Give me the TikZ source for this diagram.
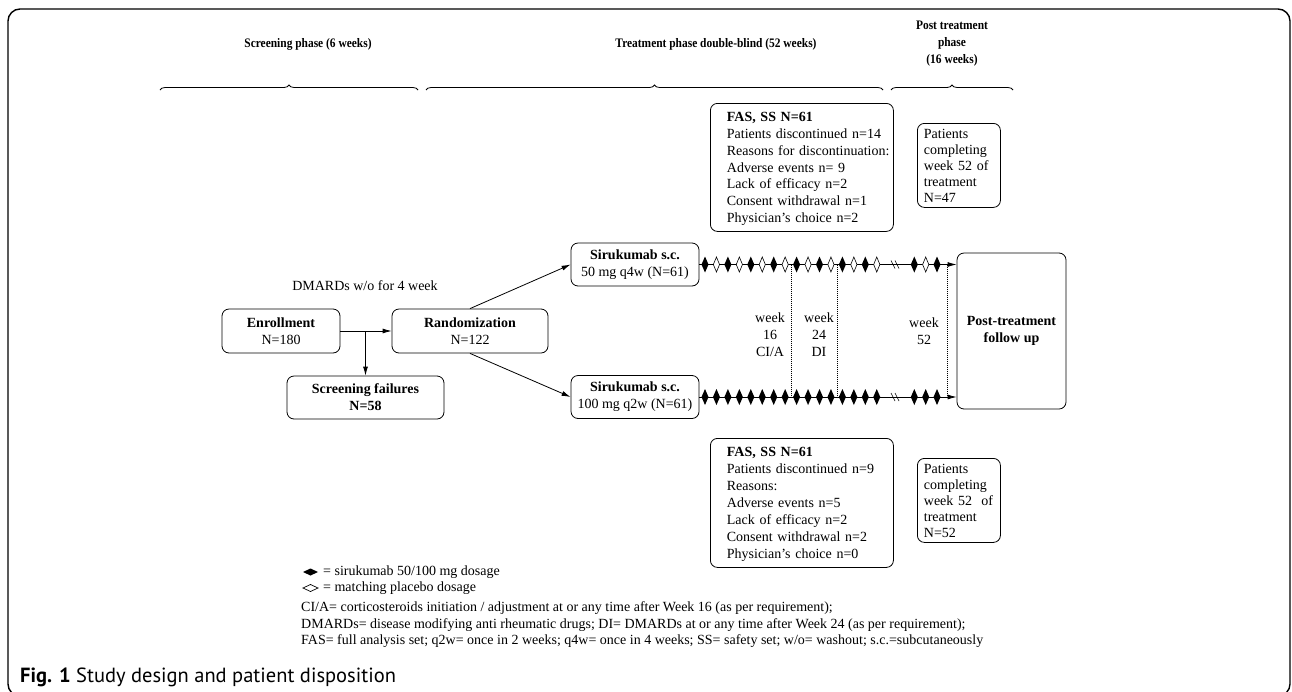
\documentclass[tikz,border=0pt]{standalone}
\usepackage{fontspec}
\setmainfont{Liberation Serif}
\newfontfamily\capfont{PT Sans}
\newfontfamily\headfont[FakeStretch=0.88]{Liberation Serif}
\usetikzlibrary{arrows.meta,decorations.pathreplacing}
\newcommand\fdia[2]{\fill ({#1},{#2-8}) -- ++(3.5,8) -- ++(-3.5,8) -- ++(-3.5,-8) -- cycle;}
\newcommand\odia[2]{\filldraw[fill=white,line width=0.6pt] ({#1},{#2-7.5}) -- ++(3.1,7.5) -- ++(-3.1,7.5) -- ++(-3.1,-7.5) -- cycle;}
\tikzset{
  box/.style={draw, line width=0.8pt, rounded corners=7pt, align=center, inner sep=2pt, font=\fontsize{14}{16.9}\selectfont},
  lbox/.style={draw, line width=0.8pt, rounded corners=7pt, align=left, anchor=north west, inner sep=0pt, font=\fontsize{14}{16.9}\selectfont},
  txt/.style={align=center, inner sep=0pt, font=\fontsize{14}{16.9}\selectfont},
  head/.style={align=center, inner sep=0pt, font=\headfont\fontsize{13}{17}\selectfont\bfseries},
  foot/.style={anchor=west, inner sep=0pt, font=\fontsize{14}{16}\selectfont},
  arr/.style={line width=0.8pt, -{Latex[length=9pt,width=5pt]}},
  brc/.style={line width=0.8pt, decorate, decoration={brace, amplitude=5pt}},
  dotl/.style={line width=0.6pt, dash pattern=on 1pt off 1pt}
}
\begin{document}
\begin{tikzpicture}[x=1pt,y=-1pt]
\useasboundingbox (0,0) rectangle (1292,691);
\begin{scope}
\clip (0,0) rectangle (1292,691);
\draw[line width=1.4pt, rounded corners=12pt] (8,9) rectangle (1290,696);
\end{scope}

% headings
\node[head] (h1) at (308,44) {Screening phase (6 weeks)};
\node[head] (h2) at (716,44) {Treatment phase double-blind (52 weeks)};
\node[head] (h3) at (952,44) {Post treatment\\phase\\(16 weeks)};
\draw[brc] (160,90) -- (418,90);
\draw[brc] (426,90) -- (883,90);
\draw[brc] (891,90) -- (1013,90);

% left flow
\node[box, minimum width=118pt, minimum height=44pt] (enr) at (281,331) {\textbf{Enrollment}\\N=180};
\node[box, minimum width=156pt, minimum height=44pt] (rand) at (470,331) {\textbf{Randomization}\\N=122};
\node[box, minimum width=157pt, minimum height=43pt, font=\fontsize{14}{16.9}\selectfont\bfseries] (fail) at (365.5,397.5) {Screening failures\\N=58};
\node[txt] (dm) at (365,286) {DMARDs w/o for 4 week};
\draw[arr] (enr.east) -- (rand.west);
\draw[arr] (enr.east -| fail.north) -- (fail.north);

\node[box, minimum width=128pt, minimum height=43pt] (top) at (635,264.5) {\textbf{Sirukumab s.c.}\\50 mg q4w (N=61)};
\node[box, minimum width=128pt, minimum height=43pt] (bot) at (635,397) {\textbf{Sirukumab s.c.}\\100 mg q2w (N=61)};
\draw[arr] (rand.north) -- (top.west);
\draw[arr] (rand.south) -- (bot.west);

\node[box, minimum width=109pt, minimum height=156pt, font=\fontsize{14}{16.9}\selectfont\bfseries] (post) at (1011.5,331) {Post-treatment\\follow up};

% timelines
\draw[arr] (top.east) -- (post.west |- top.east);
\draw[arr] (bot.east) -- (post.west |- bot.east);
\coordinate (d16) at (791,264.5);
\coordinate (d24) at (837,264.5);
\coordinate (d52) at (947,264.5);
\draw[dotl] (d16) -- (d16 |- bot.east);
\draw[dotl] (d24) -- (d24 |- bot.east);
\draw[dotl] (d52) -- (d52 |- bot.east);
\foreach \i in {0,2,...,14} {\fdia{705+11.45*\i}{264.5}}
\foreach \i in {1,3,...,15} {\odia{705+11.45*\i}{264.5}}
\fdia{914.3}{264.5}\odia{925.7}{264.5}\fdia{937}{264.5}
\foreach \i in {0,...,15} {\fdia{705+11.45*\i}{397}}
\fdia{914.3}{397}\fdia{925.7}{397}\fdia{937}{397}
\foreach \yy in {264.5,397} {
  \draw[line width=0.6pt] (891,\yy-4) -- (895,\yy+4);
  \draw[line width=0.6pt] (895,\yy-4) -- (899,\yy+4);
}
\node[txt] (w16) at (770,335) {week\\16\\CI/A};
\node[txt] (w24) at (819,335) {week\\24\\DI};
\node[txt] (w52) at (924,331) {week\\52};

% disposition boxes
\node[lbox, minimum width=183pt, minimum height=128pt, text width=172pt] (fas1) at (710,103) {\hspace*{11pt}\parbox[t]{170pt}{\vspace{3pt}\textbf{FAS, SS N=61}\\Patients discontinued n=14\\Reasons for discontinuation:\\Adverse events n= 9\\Lack of efficacy n=2\\Consent withdrawal n=1\\Physician’s choice n=2}};
\node[lbox, minimum width=83pt, minimum height=84pt, text width=80pt, inner sep=0pt] (pc1) at (917,123) {\hspace*{5pt}\parbox[t]{76pt}{\fontsize{14}{16}\selectfont\vspace{1pt}Patients\\completing\\week 52 of\\treatment\\N=47}};
\node[lbox, minimum width=183pt, minimum height=129pt, text width=172pt] (fas2) at (710,438) {\hspace*{11pt}\parbox[t]{170pt}{\vspace{3pt}\textbf{FAS, SS N=61}\\Patients discontinued n=9\\Reasons:\\Adverse events n=5\\Lack of efficacy n=2\\Consent withdrawal n=2\\Physician’s choice n=0}};
\node[lbox, minimum width=83pt, minimum height=84pt, text width=80pt, inner sep=0pt] (pc2) at (917,458) {\hspace*{5pt}\parbox[t]{76pt}{\fontsize{14}{16}\selectfont\vspace{1pt}Patients\\completing\\week 52~ of\\treatment\\N=52}};

% legend
\fill (303,572) -- (310.5,568.5) -- (318,572) -- (310.5,575.5) -- cycle;
\draw[line width=0.7pt] (303,588) -- (310.5,584.5) -- (318,588) -- (310.5,591.5) -- cycle;
\node[foot] (l1) at (323,572) {= sirukumab 50/100 mg dosage};
\node[foot] (l2) at (323,588) {= matching placebo dosage};
\node[foot] (f1) at (301,608) {CI/A= corticosteroids initiation / adjustment at or any time after Week 16 (as per requirement);};
\node[foot] (f2) at (301,625) {DMARDs= disease modifying anti rheumatic drugs; DI= DMARDs at or any time after Week 24 (as per requirement);};
\node[foot] (f3) at (301,641) {FAS= full analysis set; q2w= once in 2 weeks; q4w= once in 4 weeks; SS= safety set; w/o= washout; s.c.=subcutaneously};

\node[anchor=west, inner sep=0pt, font=\capfont\fontsize{20.5}{24}\selectfont] (cap) at (20,677) {\textbf{Fig. 1} Study design and patient disposition};
\end{tikzpicture}
\end{document}
